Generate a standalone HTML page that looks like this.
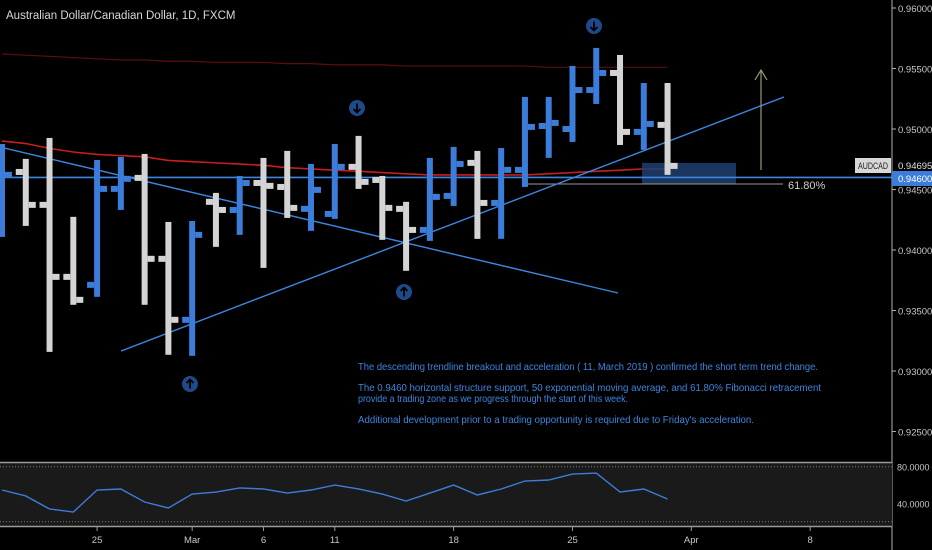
<!DOCTYPE html>
<html><head><meta charset="utf-8"><style>
html,body{margin:0;padding:0;background:#000;}
svg{display:block;font-family:"Liberation Sans",sans-serif;}
</style></head><body>
<svg id="c" width="932" height="550" viewBox="0 0 932 550">
<rect x="0" y="0" width="932" height="550" fill="#000"/>
<text x="6" y="19" fill="#d8d8d8" font-size="11.5">Australian Dollar/Canadian Dollar, 1D, FXCM</text>
<g id="main"></g>
<g id="ind"></g>
<g id="notes" fill="#3d86e0" font-size="10.5">
<text x="358" y="370" textLength="460" lengthAdjust="spacingAndGlyphs">The descending trendline breakout and acceleration ( 11, March 2019 ) confirmed the short term trend change.</text>
<text x="358" y="391" textLength="463" lengthAdjust="spacingAndGlyphs">The 0.9460 horizontal structure support, 50 exponential moving average, and 61.80% Fibonacci retracement</text>
<text x="358" y="402" textLength="270" lengthAdjust="spacingAndGlyphs">provide a trading zone as we progress through the start of this week.</text>
<text x="358" y="423" textLength="396" lengthAdjust="spacingAndGlyphs">Additional development prior to a trading opportunity is required due to Friday's acceleration.</text>
</g>
</svg>
<script>
const opens=[0.9455,0.94645,0.94373,0.93778,0.93712,0.94505,0.94596,0.93927,0.93423,0.94398,0.94331,0.94554,0.94521,0.94340,0.94298,0.94687,0.94579,0.94340,0.94166,0.94447,0.94720,0.94389,0.94662,0.95025,0.95000,0.95322,0.95463,0.94976,0.95034];
const highs=[0.94876,0.94753,0.94926,0.94274,0.94744,0.94769,0.94794,0.94232,0.94240,0.94472,0.94612,0.94761,0.94819,0.94711,0.94876,0.94943,0.94612,0.94398,0.94761,0.94852,0.94819,0.94843,0.95265,0.95265,0.95521,0.95670,0.95612,0.95380,0.95380];
const lows=[0.94108,0.94199,0.93158,0.93547,0.93613,0.94331,0.93547,0.93134,0.93125,0.94026,0.94125,0.93852,0.94265,0.94158,0.94257,0.94505,0.94084,0.93828,0.94075,0.94364,0.94092,0.94092,0.94521,0.94761,0.94893,0.95207,0.94868,0.94827,0.94621];
const closes=[0.94621,0.94373,0.93778,0.93588,0.94505,0.94588,0.93927,0.93423,0.94125,0.94331,0.94554,0.94530,0.94348,0.94497,0.94687,0.94563,0.94348,0.94166,0.94439,0.94711,0.94389,0.94662,0.95017,0.95050,0.95322,0.95463,0.94976,0.95042,0.94695];
const ema50=[0.9490,0.9488,0.9484,0.9481,0.9479,0.9478,0.9477,0.9474,0.9473,0.9472,0.9471,0.9470,0.9468,0.9467,0.9466,0.9465,0.9464,0.9463,0.9462,0.9462,0.9462,0.9462,0.9462,0.9463,0.9464,0.9465,0.9466,0.9467,0.9467];
const ma200=[0.9562,0.9561,0.9560,0.9559,0.9558,0.9557,0.9557,0.9556,0.9556,0.9555,0.9555,0.9555,0.9554,0.9554,0.9553,0.9553,0.9553,0.9552,0.9552,0.9552,0.9552,0.9552,0.9552,0.9551,0.9551,0.9551,0.9551,0.9551,0.9551];
const rsi=[54.6,48.1,33.9,30.6,54.6,55.7,41.5,35,50.2,52.4,56.8,55.7,51.3,54.6,60,55.7,50.2,42.6,51.3,60,49.2,55.7,64.4,65.5,72,73.1,52.4,55.7,44.8];
const priceTicks=[0.96,0.955,0.95,0.945,0.94,0.935,0.93,0.925];
const priceTickLabels=["0.96000","0.95500","0.95000","0.94500","0.94000","0.93500","0.93000","0.92500"];
const dateIdx=[4,8,11,14,19,24,29,34];
const dateLabels=["25","Mar","6","11","18","25","Apr","8"];
const rsiTicks=[80,40];
const rsiTickLabels=["80.0000","40.0000"];

const NS="http://www.w3.org/2000/svg";
const X=i=>2+i*23.77;
const Y=p=>8+(0.96-p)*12100;
const RY=v=>466.7+(80-v)*36.7/40;
function mk(parent,tag,attrs){const e=document.createElementNS(NS,tag);for(const k in attrs)e.setAttribute(k,attrs[k]);parent.appendChild(e);return e;}
const main=document.getElementById('main');
const ind=document.getElementById('ind');

let d="";ma200.forEach((v,i)=>{d+=(i?"L":"M")+X(i)+","+Y(v);});
let e=mk(main,'path',{d:d,fill:"none",stroke:"#5a0f0f","stroke-width":1.2});


d="";ema50.forEach((v,i)=>{d+=(i?"L":"M")+X(i)+","+Y(v);});
e=mk(main,'path',{d:d,fill:"none",stroke:"#c81e1e","stroke-width":1.6});



e=mk(main,'rect',{x:642,y:Y(0.9472),width:94,height:Y(0.94545)-Y(0.9472),fill:"#1f3f6e",opacity:0.85});


e=mk(main,'line',{x1:0,y1:Y(0.946),x2:892,y2:Y(0.946),stroke:"#3d86e0","stroke-width":1.6});


e=mk(main,'line',{x1:525,y1:Y(0.94545),x2:783,y2:Y(0.94545),stroke:"#9a9a9a","stroke-width":1});


e=mk(main,'text',{x:788,y:Y(0.94545)+5,fill:"#d0d0d0","font-size":11});e.textContent="61.80%";


e=mk(main,'line',{x1:0,y1:147,x2:618,y2:293,stroke:"#3d86e0","stroke-width":1.4});


e=mk(main,'line',{x1:121,y1:351,x2:784,y2:97,stroke:"#3d86e0","stroke-width":1.4});


e=mk(main,'path',{d:"M761,170L761,70M755,80L761,70L767,80",fill:"none",stroke:"#9a9a70","stroke-width":1.2});



opens.forEach((o,i)=>{
  const up=closes[i]>=o;const col=up?"#3b7dd8":"#d4d4d4";const x=X(i);
  const g=mk(main,'g',{fill:col});
  
  
  mk(g,'rect',{x:x-3,y:Y(highs[i]),width:6,height:Y(lows[i])-Y(highs[i])});
  mk(g,'rect',{x:x-10,y:Y(o)-3,width:7,height:6});
  mk(g,'rect',{x:x+3,y:Y(closes[i])-3,width:7,height:6});
});

function marker(cx,cy,down,name){
  const g=mk(main,'g',{});
  
  
  mk(g,'circle',{cx:cx,cy:cy,r:8,fill:"#1f4a8a"});
  const s=down?1:-1;
  mk(g,'path',{d:`M${cx},${cy-4.5*s}L${cx},${cy+4.5*s}M${cx-3.5},${cy+1*s}L${cx},${cy+4.5*s}L${cx+3.5},${cy+1*s}`,fill:"none",stroke:"#000","stroke-width":1.8});
}
marker(594,26,true,'swing-high-marker');
marker(357,108,true,'swing-high-marker');
marker(190,384,false,'swing-low-marker');
marker(404,292,false,'swing-low-marker');

e=mk(main,'line',{x1:892,y1:0,x2:892,y2:550,stroke:"#b0b0b0","stroke-width":1});


priceTicks.forEach((p,i)=>{
  const y=Y(p);
  mk(main,'line',{x1:892,y1:y,x2:896,y2:y,stroke:"#b0b0b0"});
  const t=mk(main,'text',{x:898,y:y+4,fill:"#c8c8c8","font-size":9.5});t.textContent=priceTickLabels[i];
  
  
});
e=mk(main,'rect',{x:892,y:171,width:40,height:15,fill:"#3b7dd8"});


e=mk(main,'text',{x:898,y:182,fill:"#fff","font-size":9.5});e.textContent="0.94600";
e=mk(main,'rect',{x:855,y:158,width:36,height:15,fill:"#d8d8d8"});


e=mk(main,'text',{x:858,y:169,fill:"#222","font-size":9.5,textLength:30,lengthAdjust:"spacingAndGlyphs"});e.textContent="AUDCAD";
e=mk(main,'rect',{x:893,y:158,width:39,height:13,fill:"#000"});
e=mk(main,'text',{x:898,y:169,fill:"#e0e0e0","font-size":9.5});e.textContent="0.94695";



e=mk(ind,'rect',{x:0,y:463,width:892,height:63,fill:"#1a1a1a"});


mk(ind,'line',{x1:0,y1:462.5,x2:892,y2:462.5,stroke:"#9a9a9a","stroke-width":1.5});
mk(ind,'line',{x1:0,y1:526.5,x2:892,y2:526.5,stroke:"#9a9a9a","stroke-width":1.5});
mk(ind,'line',{x1:0,y1:RY(80),x2:892,y2:RY(80),stroke:"#777","stroke-dasharray":"1,2"});
mk(ind,'line',{x1:0,y1:RY(20),x2:892,y2:RY(20),stroke:"#777","stroke-dasharray":"1,2"});
d="";rsi.forEach((v,i)=>{d+=(i?"L":"M")+X(i)+","+RY(v);});
e=mk(ind,'path',{d:d,fill:"none",stroke:"#3b7dd8","stroke-width":1.4});


rsiTicks.forEach((v,i)=>{
  const t=mk(ind,'text',{x:897,y:RY(v)+4,fill:"#c8c8c8","font-size":9});t.textContent=rsiTickLabels[i];
  
  
});
dateIdx.forEach((di,i)=>{
  const x=X(di);
  mk(ind,'line',{x1:x,y1:527,x2:x,y2:531,stroke:"#999"});
  const t=mk(ind,'text',{x:x,y:543,fill:"#c8c8c8","font-size":9.5,"text-anchor":"middle"});t.textContent=dateLabels[i];
  
  
});
</script>
</body></html>
